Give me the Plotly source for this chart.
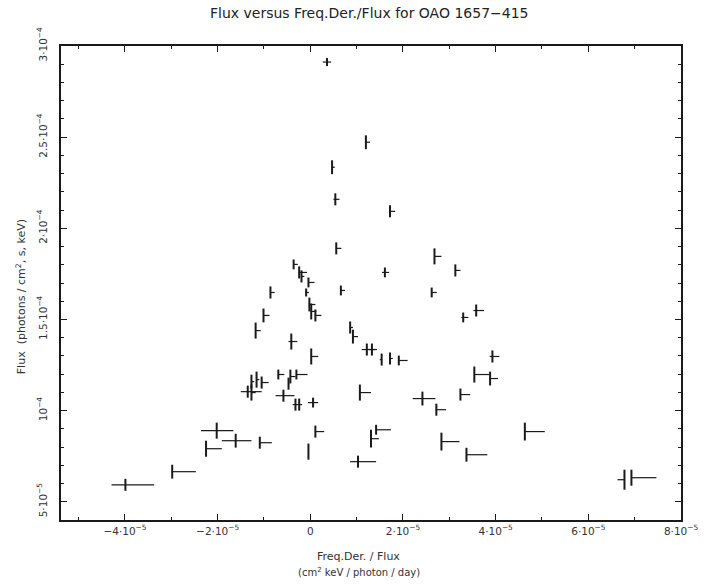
import numpy as np
import plotly.graph_objects as go

# Freq.Der./Flux (units of 1e-5) and flux (units of 1e-5 photons/cm^2/s/keV)
fd_over_flux = [0.36, 1.20, 0.47, 0.54, 1.72, 0.56, 2.68, 3.13, 1.61, -0.36,
                -0.24, -0.19, -0.04, -0.09, -0.86, 0.66, -1.01, -1.18, -0.02, 0.02,
                0.11, -0.41, 0.02, 0.86, 0.92, 1.22, 1.33, 1.54, 1.72, 1.91,
                -0.69, -0.43, -0.30, -0.47, -1.27, -1.16, -1.05, -1.35, -1.27, -0.58,
                -0.32, -0.24, 0.06, 1.07, 0.11, -0.04, 1.42, 1.31, 1.03, -1.61,
                -1.09, -2.02, -2.25, -2.98, -3.99, 2.62, 3.30, 3.58, 3.93, 3.54,
                3.88, 2.42, 2.72, 3.24, 2.83, 3.37, 4.63, 6.78, 6.93]
flux = [29.12, 24.72, 23.35, 21.59, 20.93, 18.90, 18.46, 17.69, 17.58, 18.02,
        17.58, 17.36, 17.03, 16.48, 16.48, 16.59, 15.22, 14.39, 15.82, 15.44,
        15.22, 13.79, 12.97, 14.56, 14.06, 13.35, 13.35, 12.80, 12.86, 12.75,
        11.98, 11.87, 11.98, 11.48, 11.59, 11.70, 11.54, 11.04, 10.99, 10.82,
        10.33, 10.33, 10.44, 10.99, 8.85, 7.75, 8.95, 8.46, 7.20, 8.35,
        8.24, 8.90, 7.91, 6.65, 5.93, 16.48, 15.11, 15.49, 12.97, 11.98,
        11.76, 10.66, 10.05, 10.88, 8.30, 7.58, 8.85, 6.21, 6.32]
# uncertainties in the same units
x_err_minus = [0.09, 0, 0, 0.04, 0, 0, 0, 0, 0.06, 0,
               0, 0, 0, 0, 0, 0, 0, 0, 0, 0,
               0, 0.06, 0, 0, 0, 0.11, 0.06, 0.04, 0, 0,
               0, 0, 0, 0, 0, 0, 0, 0.15, 0, 0.17,
               0.06, 0, 0.11, 0, 0, 0, 0, 0, 0.17, 0.30,
               0, 0.34, 0, 0, 0.30, 0, 0.04, 0.06, 0.06, 0,
               0, 0.21, 0, 0, 0, 0, 0, 0.15, 0]
x_err_plus = [0.09, 0.09, 0.06, 0.09, 0.11, 0.11, 0.15, 0.11, 0.09, 0.09,
              0.17, 0.06, 0.13, 0.06, 0.09, 0.09, 0.13, 0.11, 0.13, 0.11,
              0.13, 0.13, 0.15, 0.06, 0.11, 0.17, 0.11, 0, 0.06, 0.19,
              0.13, 0.11, 0.24, 0, 0.06, 0.06, 0.15, 0.30, 0.09, 0.24,
              0.06, 0.06, 0.11, 0.24, 0.19, 0, 0.32, 0.17, 0.39, 0.34,
              0.26, 0.36, 0.34, 0.51, 0.62, 0.11, 0.11, 0.17, 0.15, 0.32,
              0.17, 0.28, 0.21, 0.21, 0.39, 0.45, 0.43, 0, 0.54]
flux_err = [0.22, 0.38, 0.38, 0.33, 0.33, 0.33, 0.44, 0.33, 0.27, 0.27,
            0.33, 0.33, 0.27, 0.22, 0.33, 0.27, 0.38, 0.44, 0.38, 0.44,
            0.33, 0.44, 0.44, 0.33, 0.38, 0.33, 0.33, 0.33, 0.33, 0.27,
            0.27, 0.38, 0.27, 0.33, 0.38, 0.44, 0.33, 0.33, 0.44, 0.33,
            0.33, 0.33, 0.27, 0.44, 0.33, 0.44, 0.27, 0.49, 0.33, 0.38,
            0.33, 0.44, 0.44, 0.38, 0.33, 0.27, 0.27, 0.33, 0.33, 0.44,
            0.38, 0.38, 0.33, 0.33, 0.49, 0.38, 0.49, 0.55, 0.44]

x_tick_vals = [-4e-5, -2e-5, 0, 2e-5, 4e-5, 6e-5, 8e-5]
x_tick_text = ["−4·10<sup>−5</sup>", "−2·10<sup>−5</sup>", "0", "2·10<sup>−5</sup>",
               "4·10<sup>−5</sup>", "6·10<sup>−5</sup>", "8·10<sup>−5</sup>"]
y_tick_vals = [5e-5, 1e-4, 1.5e-4, 2e-4, 2.5e-4, 3e-4]
y_tick_text = ["5·10<sup>−5</sup>", "10<sup>−4</sup>", "1.5·10<sup>−4</sup>",
               "2·10<sup>−4</sup>", "2.5·10<sup>−4</sup>", "3·10<sup>−4</sup>"]

s = 1e-5
x = np.array(fd_over_flux) * s
y = np.array(flux) * s

FONT = "DejaVu Sans, Liberation Sans, sans-serif"
INK = "#1a1a1a"

fig = go.Figure()
fig.add_trace(go.Scatter(
    x=x, y=y, mode="markers",
    marker=dict(size=1, color=INK),
    error_x=dict(type="data", symmetric=False,
                 array=np.array(x_err_plus) * s, arrayminus=np.array(x_err_minus) * s,
                 color=INK, thickness=1.2, width=0),
    error_y=dict(type="data", array=np.array(flux_err) * s,
                 color=INK, thickness=2, width=0),
    hoverinfo="x+y", showlegend=False,
))

axis_common = dict(
    showgrid=False, zeroline=False, showline=True, linecolor=INK, linewidth=2,
    mirror="allticks", ticks="inside", ticklen=6, tickwidth=1.2, tickcolor=INK,
    tickmode="array", tickfont=dict(family=FONT, size=10.5, color="#333"),
)

fig.update_layout(
    width=710, height=585,
    margin=dict(l=61, r=25, t=46, b=65),
    paper_bgcolor="white", plot_bgcolor="white",
    xaxis=dict(range=[-5.38e-5, 8.0e-5], tickvals=x_tick_vals, ticktext=x_tick_text,
               minor=dict(tickmode="linear", tick0=0, dtick=1e-5, ticks="inside",
                          ticklen=3, tickcolor=INK, tickwidth=1),
               **axis_common),
    yaxis=dict(range=[4.0e-5, 3.0e-4], tickvals=y_tick_vals, ticktext=y_tick_text,
               tickangle=-90, ticklabelstandoff=8,
               minor=dict(tickmode="linear", tick0=0, dtick=1e-5, ticks="inside",
                          ticklen=3, tickcolor=INK, tickwidth=1),
               **axis_common),
    font=dict(family=FONT, color=INK),
    annotations=[
        dict(text="Flux versus Freq.Der./Flux for OAO 1657−415",
             xref="paper", yref="paper", x=0.498, y=1.0, yshift=33,
             showarrow=False, font=dict(family=FONT, size=14, color="#222"),
             xanchor="center", yanchor="middle"),
        dict(text="Freq.Der. / Flux",
             xref="paper", yref="paper", x=0.48, y=0, yshift=-36,
             showarrow=False, font=dict(family=FONT, size=11, color="#333"),
             xanchor="center", yanchor="middle"),
        dict(text="(cm<sup>2</sup> keV / photon / day)",
             xref="paper", yref="paper", x=0.48, y=0, yshift=-52,
             showarrow=False, font=dict(family=FONT, size=10, color="#333"),
             xanchor="center", yanchor="middle"),
        dict(text="Flux  (photons / cm<sup>2</sup>, s, keV)",
             xref="paper", yref="paper", x=0, xshift=-40, y=0.47,
             textangle=-90, showarrow=False,
             font=dict(family=FONT, size=11, color="#333"),
             xanchor="center", yanchor="middle"),
    ],
)

fig.write_html("out.html")
